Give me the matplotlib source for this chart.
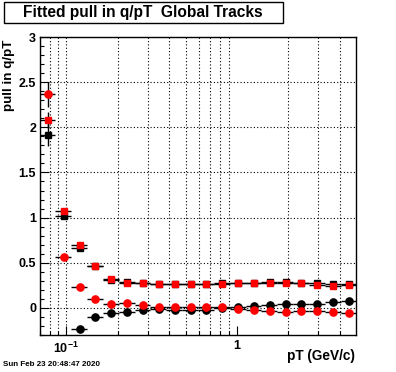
import numpy as np
import matplotlib
matplotlib.use("Agg")
import matplotlib.pyplot as plt
from matplotlib.patches import Rectangle
from matplotlib.ticker import FixedLocator, NullFormatter

plt.rcParams['font.family'] = ['Liberation Sans', 'DejaVu Sans']
plt.rcParams['font.weight'] = 'bold'
plt.rcParams['mathtext.fontset'] = 'custom'
plt.rcParams['mathtext.rm'] = 'Liberation Sans:bold'
plt.rcParams['mathtext.bf'] = 'Liberation Sans:bold'

# pT bin edges (20 log bins, GeV/c)
pt_edges = [0.07, 0.08666, 0.1073, 0.1328, 0.1644, 0.2035, 0.2519, 0.3119,
            0.3861, 0.4779, 0.5916, 0.7324, 0.9067, 1.1224, 1.3895, 1.7200,
            2.1293, 2.6359, 3.2631, 4.0394, 5.0]

# fitted pull values per bin
sigma_global = [1.915, 1.019, 0.668, 0.460, 0.310, 0.280, 0.272, 0.265, 0.262, 0.262,
                0.262, 0.275, 0.270, 0.270, 0.283, 0.283, 0.272, 0.272, 0.262, 0.265]
sigma_global_err = [0.12, 0.03, 0.02, 0.01, 0.01, 0.01, 0.01, 0.01, 0.01, 0.01,
                    0.01, 0.01, 0.01, 0.01, 0.01, 0.01, 0.01, 0.01, 0.01, 0.01]
mean_global = [np.nan, np.nan, -0.239, -0.104, -0.056, -0.048, -0.026, -0.015, -0.020, -0.020,
               -0.020, -0.005, 0.005, 0.022, 0.030, 0.037, 0.045, 0.045, 0.060, 0.078]
mean_global_err = [0.0, 0.0, 0.02, 0.01, 0.01, 0.01, 0.01, 0.01, 0.01, 0.01,
                   0.01, 0.01, 0.01, 0.01, 0.01, 0.01, 0.01, 0.01, 0.01, 0.01]
sigma_fit = [2.083, 1.078, 0.694, 0.467, 0.317, 0.272, 0.272, 0.261, 0.258, 0.258,
             0.258, 0.261, 0.269, 0.269, 0.269, 0.272, 0.269, 0.250, 0.239, 0.250]
sigma_fit_err = [0.09, 0.03, 0.02, 0.01, 0.01, 0.01, 0.01, 0.01, 0.01, 0.01,
                 0.01, 0.01, 0.01, 0.01, 0.01, 0.01, 0.01, 0.01, 0.01, 0.01]
mean_fit = [2.366, 0.560, 0.235, 0.097, 0.041, 0.048, 0.026, 0.011, 0.011, 0.011,
            0.011, 0.003, -0.015, -0.022, -0.037, -0.048, -0.037, -0.037, -0.048, -0.060]
mean_fit_err = [0.14, 0.03, 0.02, 0.01, 0.01, 0.01, 0.01, 0.01, 0.01, 0.01,
                0.01, 0.01, 0.01, 0.01, 0.01, 0.01, 0.01, 0.01, 0.01, 0.01]

edges = np.array(pt_edges)
pt = 0.5 * (edges[:-1] + edges[1:])
xerr = [pt - edges[:-1], edges[1:] - pt]

fig = plt.figure(figsize=(3.96, 3.72), dpi=100)
ax = fig.add_axes([0.1, 0.1, 0.8, 0.8])
ax.set_xscale('log')

series = [
    (sigma_global, sigma_global_err, 's', 'black', 4.5),
    (mean_global, mean_global_err, 'o', 'black', 5.2),
    (sigma_fit, sigma_fit_err, 's', 'red', 4.5),
    (mean_fit, mean_fit_err, 'o', 'red', 5.2),
]
for vals, errs, mk, col, ms in series:
    ax.errorbar(pt, vals, yerr=errs, xerr=xerr, fmt=mk, color=col, ms=ms,
                mec=col, mfc=col, ecolor='black', elinewidth=1.0, capsize=0)

ax.set_xlim(0.07, 5.0)
ax.set_ylim(-0.3, 3.0)

ax.xaxis.set_major_locator(FixedLocator([0.1, 1.0]))
ax.set_xticklabels([r'$10^{-1}$', '1'])
ax.xaxis.set_minor_locator(FixedLocator([0.07, 0.08, 0.09, 0.2, 0.3, 0.4, 0.5, 0.6,
                                         0.7, 0.8, 0.9, 2, 3, 4]))
ax.xaxis.set_minor_formatter(NullFormatter())
ax.set_yticks([0, 0.5, 1, 1.5, 2, 2.5, 3])
ax.set_yticklabels(['0', '0.5', '1', '1.5', '2', '2.5', '3'])
ax.yaxis.set_minor_locator(FixedLocator(np.arange(-0.3, 3.01, 0.1)))

ax.tick_params(which='both', direction='in', top=False, right=False, width=0.8)
ax.tick_params(which='major', length=6.5, labelsize=9)
ax.tick_params(which='minor', length=3.2)
ax.tick_params(axis='y', pad=2.5)
ax.tick_params(axis='x', pad=4)

grid_style = dict(color='black', linestyle=(0, (1, 2)), linewidth=0.8)
ax.grid(True, axis='y', which='major', **grid_style)
ax.grid(True, axis='x', which='both', **grid_style)
ax.set_axisbelow(True)
for t in ax.xaxis.get_major_ticks():
    if abs(t.get_loc() - 1.0) < 1e-9:
        t.gridline.set_visible(False)
for s in ax.spines.values():
    s.set_linewidth(1.0)

# title box
fig.patches.append(Rectangle((4 / 396, 1 - 22.5 / 372), 279 / 396, 20.5 / 372,
                             transform=fig.transFigure, facecolor='white',
                             edgecolor='black', linewidth=1.0))
fig.text(143 / 396, 1 - 12.5 / 372, 'Fitted pull in q/pT  Global Tracks',
         ha='center', va='center', fontsize=11.2, fontweight='bold')

fig.text(9 / 396, 1 - 40 / 372, 'pull in q/pT', rotation=90, ha='center', va='top',
         fontsize=9.6, fontweight='bold')
fig.text(355 / 396, 1 - 356 / 372, 'pT (GeV/c)', ha='right', va='center',
         fontsize=9.8, fontweight='bold')
fig.text(3 / 396, 1 - 364 / 372, 'Sun Feb 23 20:48:47 2020', ha='left', va='center',
         fontsize=5.8, fontweight='bold')

fig.savefig('out.png', dpi=100)
